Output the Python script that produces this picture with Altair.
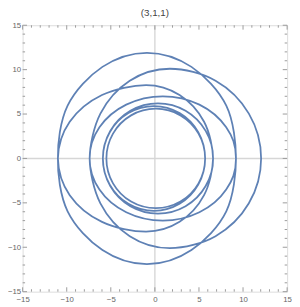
import altair as alt
import pandas as pd

# Curve points (closed path, traversed in order)
xs = [12.05, 10.66, 6.88, 1.7, -2.85, -6.18, -7.4,
      -6.29, -3.25, 0.9, 5.05, 8.09, 9.2,
      8.1, 4.15, -0.9, -5.95, -9.9, -11.0,
      -9.66, -6.0, -1.0, 2.8, 5.58, 6.6,
      5.76, 3.48, 0.35, -2.78, -5.06, -5.9,
      -5.12, -3.0, -0.1, 2.8, 4.92, 5.7,
      4.95, 2.9, 0.1, -2.7, -4.75, -5.5,
      -4.75, -2.7, 0.1, 2.9, 4.95, 5.7,
      4.92, 2.8, -0.1, -3.0, -5.12, -5.9,
      -5.06, -2.78, 0.35, 3.48, 5.76, 6.6,
      5.58, 2.8, -1.0, -6.0, -9.66, -11.0,
      -9.9, -5.95, -0.9, 4.15, 8.1, 9.2,
      8.09, 5.05, 0.9, -3.25, -6.29, -7.4,
      -6.18, -2.85, 1.7, 6.88, 10.66]
ys = [0.0, 5.05, 8.75, 10.1, 8.75, 5.05, 0.0,
      -3.5, -6.06, -7.0, -6.06, -3.5, 0.0,
      5.95, 10.31, 11.9, 10.31, 5.95, 0.0,
      -4.13, -7.14, -8.25, -7.14, -4.13, 0.0,
      3.1, 5.37, 6.2, 5.37, 3.1, 0.0,
      -2.95, -5.11, -5.9, -5.11, -2.95, 0.0,
      2.8, 4.85, 5.6, 4.85, 2.8, 0.0,
      -2.8, -4.85, -5.6, -4.85, -2.8, 0.0,
      2.95, 5.11, 5.9, 5.11, 2.95, 0.0,
      -3.1, -5.37, -6.2, -5.37, -3.1, 0.0,
      4.13, 7.14, 8.25, 7.14, 4.13, 0.0,
      -5.95, -10.31, -11.9, -10.31, -5.95, 0.0,
      3.5, 6.06, 7.0, 6.06, 3.5, 0.0,
      -5.05, -8.75, -10.1, -8.75, -5.05]

major_ticks = [-15, -10, -5, 0, 5, 10, 15]
minor_ticks = [-14, -13, -12, -11, -9, -8, -7, -6, -4, -3, -2, -1,
               1, 2, 3, 4, 6, 7, 8, 9, 11, 12, 13, 14]
chart_title = "(3,1,1)"

W, H = 271, 273
LINE = "#5E81B5"
FRAME = "#9a9a9a"
FONT = "Liberation Sans"

df = pd.DataFrame({"i": list(range(len(xs))), "x": xs, "y": ys})
maj = pd.DataFrame({"v": major_ticks})
mnr = pd.DataFrame({"v": minor_ticks})
zero = pd.DataFrame({"v": [0]})

xs_scale = alt.Scale(domain=[-15, 15], nice=False, zero=False)
ys_scale = alt.Scale(domain=[-15, 15], nice=False, zero=False)

axis_common = dict(values=major_ticks, title=None, grid=False, domain=False, ticks=False,
                   labelFont=FONT, labelFontSize=8, labelColor="#666666",
                   labelFlush=False, labelOverlap=False)


def X(field):
    return alt.X(field, scale=xs_scale, axis=alt.Axis(labelPadding=4, **axis_common))


def Y(field):
    return alt.Y(field, scale=ys_scale, axis=alt.Axis(labelPadding=2, **axis_common))


# axes through the origin
ax0 = alt.Chart(zero).mark_rule(color="#d6d6d6", strokeWidth=1.4).encode(x=X("v:Q"))
ay0 = alt.Chart(zero).mark_rule(color="#d6d6d6", strokeWidth=1.4).encode(y=Y("v:Q"))

curve = alt.Chart(df).mark_line(
    interpolate="cardinal-closed", color=LINE, strokeWidth=1.8
).encode(
    x=X("x:Q"),
    y=Y("y:Q"),
    order=alt.Order("i:Q"),
)


def tick_layers(data, length):
    out = []
    rule = dict(color=FRAME, strokeWidth=1)
    out.append(alt.Chart(data).mark_rule(**rule).encode(
        x=X("v:Q"), y=alt.value(H), y2=alt.value(H - length)))
    out.append(alt.Chart(data).mark_rule(**rule).encode(
        x=X("v:Q"), y=alt.value(0), y2=alt.value(length)))
    out.append(alt.Chart(data).mark_rule(**rule).encode(
        y=Y("v:Q"), x=alt.value(0), x2=alt.value(length)))
    out.append(alt.Chart(data).mark_rule(**rule).encode(
        y=Y("v:Q"), x=alt.value(W), x2=alt.value(W - length)))
    return out


layers = [ax0, ay0] + tick_layers(maj, 4.5) + tick_layers(mnr, 2.5) + [curve]

chart = alt.layer(*layers).properties(
    width=W, height=H,
    title=alt.TitleParams(chart_title, fontSize=10, font=FONT, color="#444444",
                          fontWeight="normal", offset=3, anchor="middle"),
    autosize=alt.AutoSizeParams(type="none"),
    padding={"left": 15, "top": 14, "right": 5, "bottom": 10},
).configure_view(stroke=FRAME, strokeWidth=1).configure(background="white")

chart.save("out.html", embed_options={"renderer": "svg", "actions": False})
